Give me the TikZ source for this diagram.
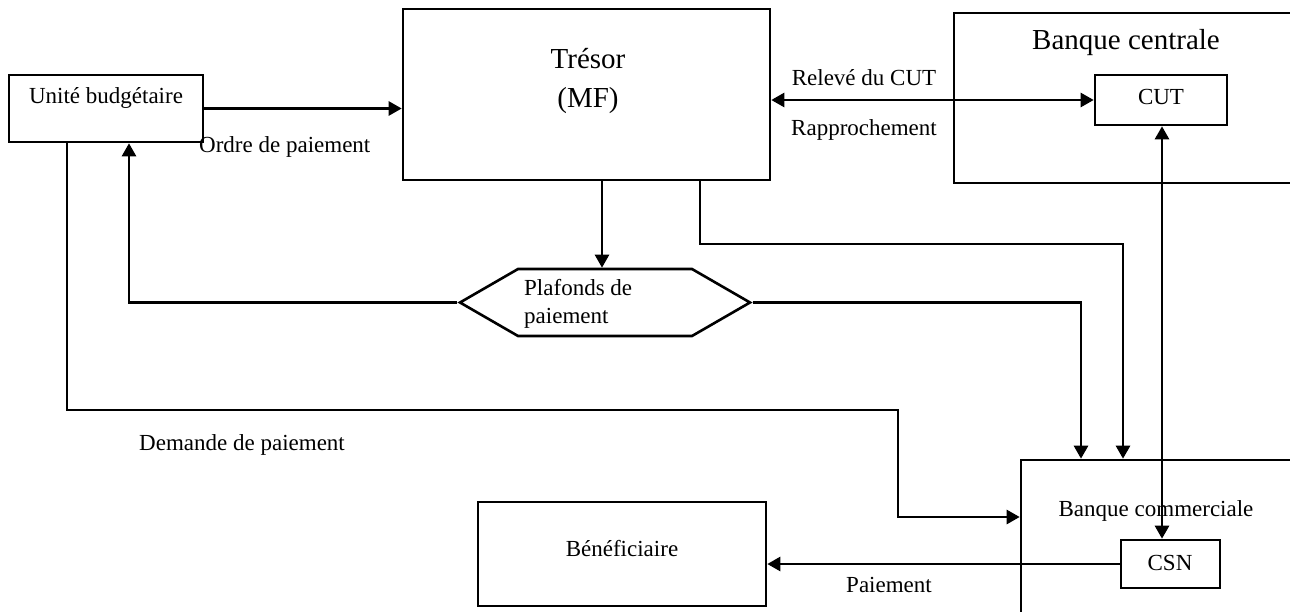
\documentclass[tikz,border=0pt]{standalone}
\usepackage{fontspec}
\setmainfont{Liberation Serif}
\usetikzlibrary{shapes,arrows.meta}
\tikzset{x=1pt,y=-1pt,>={Triangle[length=13pt,width=14pt]},
	every edge/.style={draw,->,line width=2.6pt}}
\tikzstyle{box}=[rectangle,draw=black!100,line width=2.6pt,inner sep=0pt]
\tikzstyle{hexa}=[signal,signal to=west and east,signal pointer angle=60,draw=black!100,line width=2.6pt,inner sep=0pt,minimum width=290pt,minimum height=67pt]
\tikzstyle{small}=[font=\fontsize{23}{28}\selectfont,inner sep=0pt]
\tikzstyle{big}=[font=\fontsize{29}{39}\selectfont,inner sep=0pt,align=center]
\tikzstyle{flow}=[->,line width=2.6pt]
\begin{document}
\begin{tikzpicture}
		\useasboundingbox (0,0) rectangle (1290,611);
		\node at (106,108.5) [box,minimum width=194pt,minimum height=67pt] (1) {};
		\node at (586.5,94.5) [box,minimum width=367pt,minimum height=171pt] (2) {};
		\node at (1127,98) [box,minimum width=346pt,minimum height=170pt] (3) {};
		\node at (1161,100) [box,minimum width=132pt,minimum height=50pt] (4) {};
		\node at (605,302.5) [hexa] (5) {};
		\node at (1160.5,540) [box,minimum width=279pt,minimum height=160pt] (6) {};
		\node at (1170.5,564) [box,minimum width=99pt,minimum height=48pt] (7) {};
		\node at (622,554) [box,minimum width=288pt,minimum height=104pt] (8) {};
		% texts in the boxes
		\node at (106,98) [small] (1t) {Unité budgétaire};
		\node at (588,81) [big] (2t) {Trésor\\(MF)};
		\node at (1126,43) [big] (3t) {Banque centrale};
		\node at (1161,97) [small] (4t) {CUT};
		\node at (524,304) [small,anchor=west,align=left] (5t) {Plafonds de\\paiement};
		\node at (1156,511) [small] (6t) {Banque commerciale};
		\node at (1170,563) [small] (7t) {CSN};
		\node at (622,549) [small] (8t) {Bénéficiaire};
		% labels
		\node at (199,147) [small,anchor=west] (l1) {Ordre de paiement};
		\node at (864,78) [small] (l2) {Relevé du CUT};
		\node at (864,130) [small] (l3) {Rapprochement};
		\node at (139,445) [small,anchor=west] (l4) {Demande de paiement};
		\node at (889,585) [small] (l5) {Paiement};
		% flows
		\draw (1.east) edge (1.east -| 2.west);
		\draw [<->,line width=2.6pt] (2.east |- 4) -- (4.west);
		\draw (2.south -| 602,0) edge (5.north -| 602,0);
		\draw [flow] (2.south -| 700,0) -- (700,244) -| (6.north -| 1123,0);
		\draw [flow] (5.west) -| (1.south -| 129,0);
		\draw [flow] (5.east) -| (6.north -| 1081,0);
		\draw [flow] (1.south -| 67,0) |- (898,410) |- (6.west |- 0,517);
		\draw [<->,line width=2.6pt] (4.south -| 1162,0) -- (7.north -| 1162,0);
		\draw (7.west) edge (7.west -| 8.east);
		\end{tikzpicture}
\end{document}
